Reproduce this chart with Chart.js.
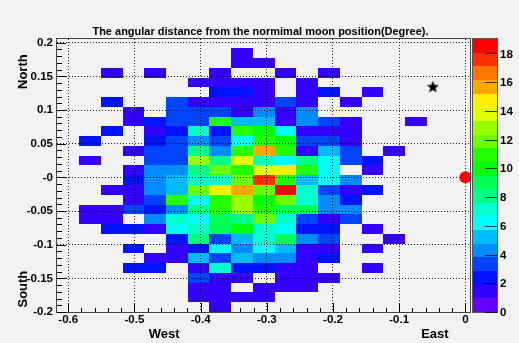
<!DOCTYPE html>
<html lang="en">
<head>
    <meta charset="UTF-8">
    <title>The angular distance from the normimal moon position</title>
    <style>
        html, body {
            margin: 0;
            padding: 0;
            background-color: #f2f2f2;
        }
        #moonChart {
            display: block;
        }
    </style>
</head>
<body>
    <canvas id="moonChart" width="519" height="343"></canvas>
    <script src="https://cdn.jsdelivr.net/npm/chart.js@4.4.1/dist/chart.umd.min.js"></script>
    <script>
        // axis ranges (degrees)
        const X_MIN = -0.617, X_MAX = 0.007;
        const Y_MIN = -0.2, Y_MAX = 0.2055;
        const Z_MIN = 0, Z_MAX = 19;

        // histogram binning
        const X_BIN_START = -0.6164, X_BIN_WIDTH = 0.03283;
        const Y_BIN_TOP = 0.2062, Y_BIN_HEIGHT = 0.014507;

        // counts per bin, rows from North (top) to South (bottom), columns West -> East
        const counts = [
            [0,0,0,0,0,0,0,0,0,0,0,0,0,0,0,0,0,0,0],
            [0,0,0,0,0,0,0,0,1,0,0,0,0,0,0,0,0,0,0],
            [0,0,0,0,0,0,0,0,1,1,0,0,0,0,0,0,0,0,0],
            [0,0,1,0,1,0,0,1,0,0,1,0,1,0,0,0,0,0,0],
            [0,0,0,0,0,0,1,1,1,1,0,1,0,0,0,0,0,0,0],
            [0,0,0,0,0,0,0,2,2,1,0,1,2,0,1,0,0,0,0],
            [0,0,2,0,0,3,1,1,1,1,3,1,0,1,0,0,0,0,0],
            [0,0,0,1,0,3,3,3,1,4,1,4,0,0,0,0,0,0,0],
            [0,0,0,1,2,3,3,11,5,5,1,4,3,1,0,0,1,0,0],
            [0,0,2,0,1,2,7,2,11,10,6,1,1,1,0,0,0,0,0],
            [0,2,0,0,2,3,4,3,6,11,10,3,3,1,0,0,0,0,0],
            [0,0,0,1,3,3,8,4,11,16,11,1,5,3,0,1,0,0,0],
            [0,1,0,0,3,3,13,8,14,7,6,8,6,3,2,0,0,0,0],
            [0,0,0,1,4,4,8,12,11,14,15,11,6,0,1,0,0,0,0],
            [0,0,0,2,4,5,7,7,12,18,11,5,6,4,0,0,0,0,0],
            [0,0,1,1,4,5,12,15,16,12,19,7,3,1,2,0,0,0,0],
            [0,0,0,1,3,11,6,11,13,10,12,7,4,2,0,0,0,0,0],
            [0,1,1,3,2,4,8,11,13,11,9,9,4,4,0,0,0,0,0],
            [0,1,1,0,4,7,6,9,8,12,7,3,1,3,0,0,0,0,0],
            [0,0,2,2,1,6,7,9,10,7,6,2,2,0,1,0,0,0,0],
            [0,0,0,0,0,2,8,3,5,7,9,4,3,0,0,1,0,0,0],
            [0,0,0,2,0,1,2,6,4,6,5,1,1,0,1,0,0,0,0],
            [0,0,0,0,1,1,5,3,5,4,4,1,2,0,0,0,0,0,0],
            [0,0,0,2,2,0,1,7,2,2,1,1,0,0,1,0,0,0,0],
            [0,0,0,0,0,0,3,1,1,0,1,1,1,0,0,0,0,0,0],
            [0,0,0,0,0,0,1,1,0,1,1,1,0,0,0,0,0,0,0],
            [0,0,0,0,0,0,1,1,1,1,0,0,0,0,0,0,0,0,0],
            [0,0,0,0,0,0,0,1,0,0,0,0,0,0,0,0,0,0,0]
        ];

        // markers
        const starPoint = [{ x: -0.049, y: 0.134 }];
        const moonPoint = [{ x: 0, y: 0 }];

        // tick labels
        const xTickValues = [-0.6, -0.5, -0.4, -0.3, -0.2, -0.1, 0];
        const xTickLabels = ['-0.6', '-0.5', '-0.4', '-0.3', '-0.2', '-0.1', '0'];
        const yTickValues = [-0.2, -0.15, -0.1, -0.05, 0, 0.05, 0.1, 0.15, 0.2];
        const yTickLabels = ['-0.2', '-0.15', '-0.1', '-0.05', '-0', '0.05', '0.1', '0.15', '0.2'];
        const zTickValues = [0, 2, 4, 6, 8, 10, 12, 14, 16, 18];

        const titleText = 'The angular distance from the normimal moon position(Degree).';

        // ROOT "pretty" palette, 20 contour levels
        const palette = ['#6300ff', '#3300ff', '#0014ff', '#0044ff', '#008bff',
                         '#00bbff', '#00fffc', '#00ffcc', '#00ff85', '#00ff55',
                         '#00ff0e', '#22ff00', '#69ff00', '#99ff00', '#e0ff00',
                         '#ffee00', '#ffa700', '#ff7700', '#ff3000', '#ff0000'];

        const FONT = '"Liberation Sans", Arial, sans-serif';

        function levelColor(v) {
            const step = (Z_MAX - Z_MIN) / palette.length;
            const k = Math.min(palette.length - 1, Math.floor((v - Z_MIN) / step));
            return palette[k];
        }

        function makeStar(size) {
            const c = document.createElement('canvas');
            c.width = size;
            c.height = size;
            const g = c.getContext('2d');
            const R = size / 2, r = R * 0.42;
            g.beginPath();
            for (let k = 0; k < 10; k++) {
                const a = -Math.PI / 2 + k * Math.PI / 5;
                const rad = k % 2 ? r : R;
                g.lineTo(R + rad * Math.cos(a), R + rad * Math.sin(a));
            }
            g.closePath();
            g.fillStyle = '#000';
            g.fill();
            return c;
        }

        // background + histogram cells (under the grid)
        const histPlugin = {
            id: 'hist',
            beforeDraw(chart) {
                const ctx = chart.ctx;
                const xs = chart.scales.x, ys = chart.scales.y;
                ctx.save();
                ctx.fillStyle = '#f2f2f2';
                ctx.fillRect(0, 0, chart.width, chart.height);
                counts.forEach((row, i) => {
                    const yTop = Y_BIN_TOP - i * Y_BIN_HEIGHT;
                    const py0 = Math.round(ys.getPixelForValue(yTop));
                    const py1 = Math.round(ys.getPixelForValue(yTop - Y_BIN_HEIGHT));
                    row.forEach((v, j) => {
                        if (v <= 0) return;
                        const xLeft = X_BIN_START + j * X_BIN_WIDTH;
                        const px0 = Math.round(xs.getPixelForValue(xLeft));
                        const px1 = Math.round(xs.getPixelForValue(xLeft + X_BIN_WIDTH));
                        ctx.fillStyle = levelColor(v);
                        ctx.fillRect(px0, py0, px1 - px0, py1 - py0);
                    });
                });
                ctx.restore();
            },
            afterDraw(chart) {
                const ctx = chart.ctx;
                const ca = chart.chartArea;
                const xs = chart.scales.x, ys = chart.scales.y, zs = chart.scales.z;
                ctx.save();

                // frame
                ctx.strokeStyle = '#444';
                ctx.lineWidth = 1;
                ctx.strokeRect(ca.left - 0.5, ca.top - 0.5, ca.right - ca.left + 1, ca.bottom - ca.top + 1);

                // inner ticks
                ctx.strokeStyle = '#000';
                ctx.beginPath();
                for (let k = -20; k <= 20; k++) {
                    const py = Math.round(ys.getPixelForValue(k / 100)) + 0.5;
                    const len = k % 5 === 0 ? 9 : 5;
                    ctx.moveTo(ca.left, py);
                    ctx.lineTo(ca.left + len, py);
                }
                for (let k = -30; k <= 0; k++) {
                    const px = Math.round(xs.getPixelForValue(k / 50)) + 0.5;
                    const len = k % 5 === 0 ? 9 : 4;
                    ctx.moveTo(px, ca.bottom);
                    ctx.lineTo(px, ca.bottom - len);
                }
                ctx.stroke();

                // colour bar
                const barL = ca.right + 3, barW = 24;
                const step = (Z_MAX - Z_MIN) / palette.length;
                palette.forEach((col, k) => {
                    const p0 = Math.round(zs.getPixelForValue(Z_MIN + k * step));
                    const p1 = Math.round(zs.getPixelForValue(Z_MIN + (k + 1) * step));
                    ctx.fillStyle = col;
                    ctx.fillRect(barL, p1, barW, p0 - p1);
                });
                const zTop = Math.round(zs.getPixelForValue(Z_MAX));
                const zBot = Math.round(zs.getPixelForValue(Z_MIN));
                ctx.strokeStyle = '#555';
                ctx.strokeRect(barL - 0.5, zTop - 0.5, barW + 1, zBot - zTop + 1);
                ctx.strokeStyle = 'rgba(0,0,0,0.75)';
                ctx.beginPath();
                zTickValues.forEach(v => {
                    const py = Math.round(zs.getPixelForValue(v)) + 0.5;
                    ctx.moveTo(barL + barW, py);
                    ctx.lineTo(barL + barW - 12, py);
                });
                ctx.stroke();
                ctx.fillStyle = '#000';
                ctx.font = 'bold 11.5px ' + FONT;
                ctx.textAlign = 'left';
                ctx.textBaseline = 'middle';
                zTickValues.forEach(v => {
                    ctx.fillText(String(v), barL + barW + 3, zs.getPixelForValue(v) + 1);
                });

                // title
                ctx.font = 'bold 11px ' + FONT;
                ctx.textAlign = 'center';
                ctx.fillText(titleText, chart.width / 2 + 1, 32);

                // axis titles
                ctx.font = 'bold 13px ' + FONT;
                ctx.fillText('West', xs.getPixelForValue(-0.455), 334);
                ctx.fillText('East', xs.getPixelForValue(-0.046), 334);
                ctx.save();
                ctx.translate(23, ys.getPixelForValue(0.157));
                ctx.rotate(-Math.PI / 2);
                ctx.fillText('North', 0, 0);
                ctx.restore();
                ctx.save();
                ctx.translate(23, ys.getPixelForValue(-0.166));
                ctx.rotate(-Math.PI / 2);
                ctx.fillText('South', 0, 0);
                ctx.restore();

                ctx.restore();
            }
        };

        const tickFont = { family: FONT, size: 11.5, weight: 'bold' };

        new Chart(document.getElementById('moonChart'), {
            type: 'scatter',
            data: {
                datasets: [{
                    data: starPoint,
                    pointStyle: makeStar(13),
                    pointRadius: 6,
                    clip: false
                }, {
                    data: moonPoint,
                    pointStyle: 'circle',
                    pointRadius: 6,
                    backgroundColor: '#ff0000',
                    borderWidth: 0,
                    clip: false
                }]
            },
            options: {
                responsive: false,
                animation: false,
                devicePixelRatio: 1,
                layout: { padding: { left: 0, top: 39, right: 49, bottom: 0 } },
                plugins: {
                    legend: { display: false },
                    tooltip: { enabled: false }
                },
                scales: {
                    x: {
                        type: 'linear',
                        position: 'bottom',
                        min: X_MIN,
                        max: X_MAX,
                        afterFit: scale => { scale.height = 31; },
                        afterBuildTicks: scale => { scale.ticks = xTickValues.map(v => ({ value: v })); },
                        ticks: {
                            autoSkip: false,
                            maxRotation: 0,
                            padding: 1,
                            color: '#000',
                            font: tickFont,
                            callback: (v, i) => xTickLabels[i]
                        },
                        grid: { drawTicks: false, color: 'rgba(0,0,0,0.85)', lineWidth: 1 },
                        border: { display: false, dash: [1, 2] }
                    },
                    y: {
                        type: 'linear',
                        position: 'left',
                        min: Y_MIN,
                        max: Y_MAX,
                        afterFit: scale => { scale.width = 57; },
                        afterBuildTicks: scale => { scale.ticks = yTickValues.map(v => ({ value: v })); },
                        ticks: {
                            autoSkip: false,
                            padding: 4,
                            color: '#000',
                            font: tickFont,
                            callback: (v, i) => yTickLabels[i]
                        },
                        grid: { drawTicks: false, color: 'rgba(0,0,0,0.85)', lineWidth: 1 },
                        border: { display: false, dash: [1, 2] }
                    },
                    z: {
                        type: 'linear',
                        position: 'right',
                        display: false,
                        min: Z_MIN,
                        max: Z_MAX
                    }
                }
            },
            plugins: [histPlugin]
        });
    </script>
</body>
</html>
